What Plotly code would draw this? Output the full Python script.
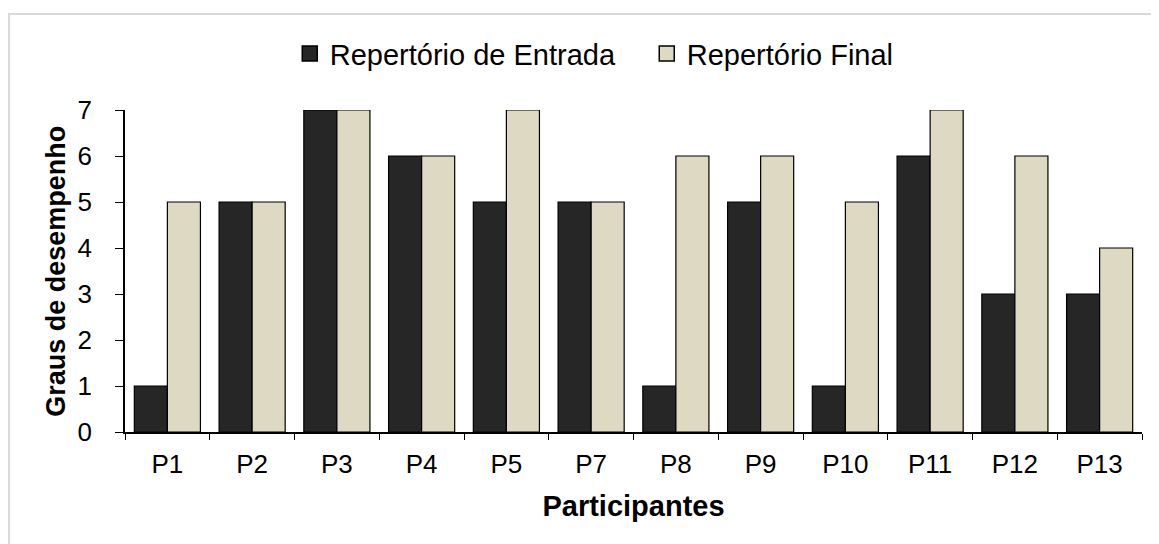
import plotly.graph_objects as go

participantes = ["P1", "P2", "P3", "P4", "P5", "P7", "P8", "P9", "P10", "P11", "P12", "P13"]
repertorio_entrada = [1, 5, 7, 6, 5, 5, 1, 5, 1, 6, 3, 3]
repertorio_final = [5, 5, 7, 6, 7, 5, 6, 6, 5, 7, 6, 4]

fonte = "Liberation Sans, Arial, sans-serif"
series = [
    ("Repertório de Entrada", repertorio_entrada, "#262626"),
    ("Repertório Final", repertorio_final, "#DDD9C3"),
]

fig = go.Figure()
for nome, valores, cor in series:
    fig.add_trace(go.Bar(
        x=participantes, y=valores, name=nome, showlegend=False,
        marker=dict(color=cor, line=dict(color="black", width=1.2)),
    ))
# entradas de legenda com quadrado maior (estilo Excel)
for nome, valores, cor in series:
    fig.add_trace(go.Scatter(
        x=[None], y=[None], mode="markers", name=nome,
        marker=dict(symbol="square", size=15, color=cor, line=dict(color="black", width=1.5)),
    ))

# moldura do gráfico
fig.add_shape(type="rect", xref="paper", yref="paper",
              x0=-0.114, x1=1.03, y0=-0.4, y1=1.298,
              line=dict(color="#d9d9d9", width=2), layer="below")

# título do eixo y como anotação, para ficar colado aos rótulos
fig.add_annotation(text="<b>Graus de desempenho</b>", xref="paper", yref="paper",
                   x=-0.068, y=0.5, xanchor="center", yanchor="middle",
                   textangle=-90, showarrow=False, font=dict(size=27))

# a página tem 8px de margem no body: a figura fica 8px menor
fig.update_layout(
    width=1151, height=536,
    margin=dict(l=117, r=17, t=102, b=112),
    plot_bgcolor="white", paper_bgcolor="white",
    barmode="group", bargap=0.22, bargroupgap=0,
    font=dict(family=fonte, size=26, color="black"),
    showlegend=True,
    legend=dict(orientation="h", x=0.162, xanchor="left", y=1.175, yanchor="middle",
                font=dict(size=29), traceorder="normal", itemwidth=30,
                entrywidth=312, tracegroupgap=0),
)
fig.update_xaxes(
    automargin=False,
    showline=True, linecolor="black", linewidth=1.5,
    ticks="outside", tickson="boundaries", ticklen=6, tickcolor="black",
    tickfont=dict(size=26), ticklabelstandoff=8,
    title=dict(text="<b>Participantes</b>", font=dict(size=29), standoff=18),
)
fig.update_yaxes(
    automargin=False,
    range=[0, 7], tickvals=list(range(8)), showgrid=False, zeroline=False,
    showline=True, linecolor="black", linewidth=1.5,
    ticks="outside", ticklen=8, tickcolor="black",
    tickfont=dict(size=26), ticklabelstandoff=18,
)

fig.write_html("out.html")
